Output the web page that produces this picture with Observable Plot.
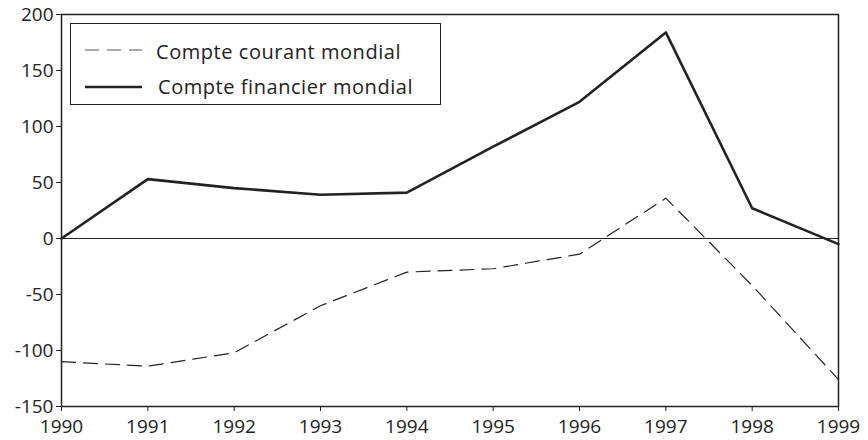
<!DOCTYPE html>
<html>
<head>
<meta charset="utf-8">
<script src="https://cdn.jsdelivr.net/npm/d3@7"></script>
<script src="https://cdn.jsdelivr.net/npm/@observablehq/plot@0.6"></script>
<style>
  body { margin: 0; background: #fff; }
  #wrap { position: relative; width: 868px; height: 440px; overflow: hidden; font-family: "Open Sans", sans-serif; }
  #legend { position: absolute; left: 70px; top: 23px; width: 371px; height: 82px; border: 1.5px solid #222; background: #fff; box-sizing: border-box; }
  .lbl { position: absolute; font-size: 20px; line-height: 20px; letter-spacing: 0.55px; color: #222; white-space: nowrap; }
  .sw { position: absolute; }
</style>
</head>
<body>
<div id="wrap"></div>
<script>
const years = [1990, 1991, 1992, 1993, 1994, 1995, 1996, 1997, 1998, 1999];
const compteCourant = [-110, -114, -102, -60, -30, -27, -14, 36, -42, -126];
const compteFinancier = [0, 53, 45, 39, 41, 82, 122, 184, 27, -5];
const yTicks = [200, 150, 100, 50, 0, -50, -100, -150];
const seriesNames = ["Compte courant mondial", "Compte financier mondial"];

const courant = years.map((y, i) => ({year: y, value: compteCourant[i]}));
const financier = years.map((y, i) => ({year: y, value: compteFinancier[i]}));

const chart = Plot.plot({
  width: 868,
  height: 440,
  marginLeft: 61,
  marginRight: 30,
  marginTop: 14,
  marginBottom: 34,
  style: {fontFamily: "Open Sans, sans-serif", fontSize: "19px", color: "#222", background: "#fff"},
  x: {domain: [1990, 1999]},
  y: {domain: [-150, 200]},
  marks: [
    Plot.axisX({ticks: years, tickFormat: d => String(d), tickSize: 5, tickPadding: 8, label: null, fontSize: 19}),
    Plot.axisY({ticks: yTicks, tickFormat: d => String(d), tickSize: 5, tickPadding: 3, label: null, fontSize: 19}),
    Plot.ruleY([0], {stroke: "#222", strokeWidth: 1}),
    Plot.line(courant, {x: "year", y: "value", stroke: "#222", strokeWidth: 1.2, strokeDasharray: "14,8"}),
    Plot.line(financier, {x: "year", y: "value", stroke: "#222", strokeWidth: 2.6}),
    Plot.frame({stroke: "#222", strokeWidth: 1.5})
  ]
});
const wrap = document.getElementById("wrap");
wrap.appendChild(chart);

const legend = document.createElement("div");
legend.id = "legend";
legend.innerHTML = `
  <svg class="sw" style="left:13px;top:16px" width="60" height="20"><line x1="1" y1="10" x2="58" y2="10" stroke="#555" stroke-width="1.2" stroke-dasharray="14,8"/></svg>
  <span class="lbl" style="left:85px;top:18px">${seriesNames[0]}</span>
  <svg class="sw" style="left:13px;top:53px" width="60" height="20"><line x1="1" y1="10" x2="58" y2="10" stroke="#222" stroke-width="2.6"/></svg>
  <span class="lbl" style="left:87px;top:53px">${seriesNames[1]}</span>`;
wrap.appendChild(legend);
</script>
</body>
</html>
